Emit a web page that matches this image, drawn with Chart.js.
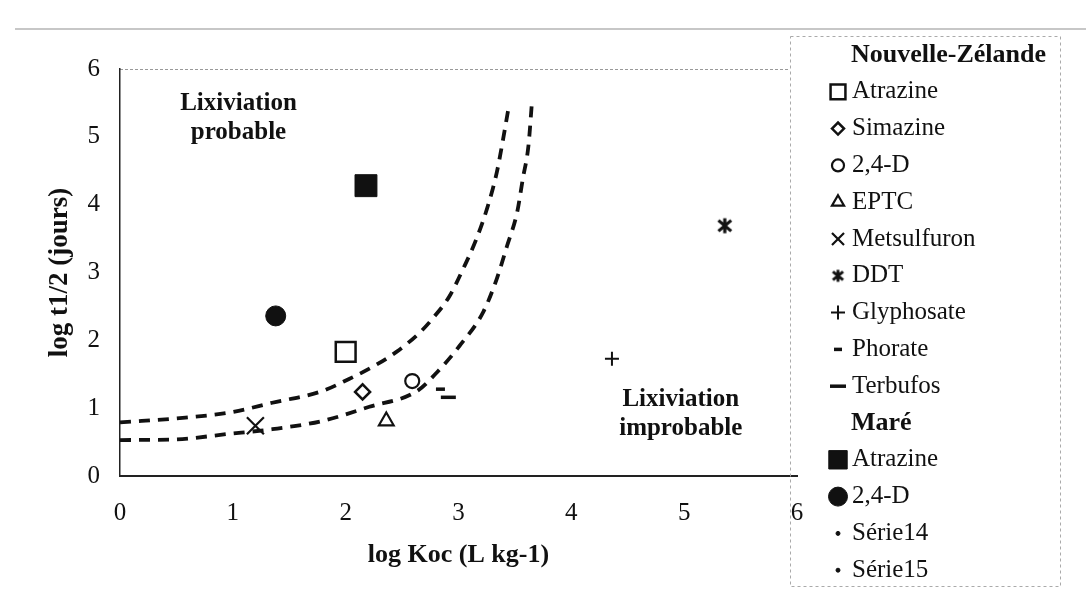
<!DOCTYPE html>
<html>
<head>
<meta charset="utf-8">
<script src="https://cdn.jsdelivr.net/npm/chart.js@4.4.0/dist/chart.umd.min.js"></script>
<style>
  html, body { margin: 0; padding: 0; background: #fff; }
  #wrap { width: 1086px; height: 600px; }
</style>
</head>
<body>
<div id="wrap"><canvas id="chart" width="1086" height="600"></canvas></div>
<script>
// Nouvelle-Zélande pesticides : log Koc / log t1/2
const nzNames = ['Atrazine', 'Simazine', '2,4-D', 'EPTC', 'Metsulfuron', 'DDT', 'Glyphosate', 'Phorate', 'Terbufos'];
const nzKoc = [2.0, 2.15, 2.59, 2.36, 1.20, 5.36, 4.36, 2.84, 2.91];
const nzT12 = [1.83, 1.24, 1.40, 0.81, 0.74, 3.69, 1.73, 1.28, 1.16];

// Maré
const mareNames = ['Atrazine', '2,4-D'];
const mareKoc = [2.18, 1.38];
const mareT12 = [4.28, 2.36];

// the two dashed limit curves (Série14 upper, Série15 lower)
const s14Koc = [0.0, 0.58, 0.99, 1.35, 1.79, 2.03, 2.24, 2.45, 2.66, 2.77, 2.92, 3.04, 3.16, 3.26, 3.34, 3.40, 3.45];
const s14T12 = [0.79, 0.86, 0.94, 1.08, 1.25, 1.43, 1.61, 1.83, 2.12, 2.32, 2.65, 3.05, 3.50, 3.98, 4.48, 5.01, 5.49];
const s15Koc = [0.0, 0.49, 0.96, 1.35, 1.79, 2.21, 2.63, 2.81, 3.01, 3.22, 3.34, 3.43, 3.52, 3.57, 3.62, 3.65];
const s15T12 = [0.53, 0.54, 0.62, 0.69, 0.81, 1.02, 1.25, 1.53, 1.92, 2.42, 2.91, 3.39, 3.89, 4.38, 4.87, 5.49];

const xTicks = [0, 1, 2, 3, 4, 5, 6];
const yTicks = [0, 1, 2, 3, 4, 5, 6];

const INK = '#111';
const SERIF = '"Liberation Serif", "Times New Roman", serif';

// Excel-like star marker: an X with a vertical bar through it
function starMarker(size, lw) {
  const c = document.createElement('canvas');
  c.width = size; c.height = size;
  const g = c.getContext('2d');
  const m = lw / 2 + 1, h = size / 2;
  g.strokeStyle = INK;
  g.lineWidth = lw;
  g.beginPath();
  g.moveTo(m, m + 1); g.lineTo(size - m, size - m - 1);
  g.moveTo(size - m, m + 1); g.lineTo(m, size - m - 1);
  g.moveTo(h, m - 1); g.lineTo(h, size - m + 1);
  g.stroke();
  return c;
}
const starBig = starMarker(18, 3.2);
const starSmall = starMarker(15, 2.8);

// marker looks (plot radius r, legend radius lr)
const nzStyles = [
  { pointStyle: 'rect', r: 14, lr: 10.5, w: 2.5, filled: false },
  { pointStyle: 'rectRot', r: 7.5, lr: 6, w: 2.5, filled: false },
  { pointStyle: 'circle', r: 7, lr: 6, w: 2.2, filled: false },
  { pointStyle: 'triangle', r: 8.5, lr: 7, w: 2.2, filled: false },
  { pointStyle: 'crossRot', r: 12, lr: 8.5, w: 2.2, filled: false },
  { pointStyle: starBig, legendImg: starSmall, r: 9, lr: 7, w: 3, filled: false },
  { pointStyle: 'cross', r: 7, lr: 7, w: 2, filled: false },
  { pointStyle: 'line', r: 4.5, lr: 4, w: 3.5, filled: false },
  { pointStyle: 'line', r: 7.5, lr: 8, w: 3.5, filled: false }
];
const mareStyles = [
  { pointStyle: 'rect', r: 15.5, lr: 13, w: 1, filled: true },
  { pointStyle: 'circle', r: 10, lr: 9.5, w: 1, filled: true }
];
const dotStyle = { pointStyle: 'circle', r: 2, lr: 2, w: 1, filled: true };

function pts(xs, ys) {
  return xs.map((x, i) => ({ x: x, y: ys[i] }));
}

function markerSet(label, x, y, st) {
  return {
    label: label,
    data: [{ x: x, y: y }],
    showLine: false,
    pointStyle: st.pointStyle,
    pointRadius: st.r,
    pointBorderWidth: st.w,
    borderColor: INK,
    backgroundColor: st.filled ? INK : 'rgba(0,0,0,0)'
  };
}

const datasets = [];
nzNames.forEach((n, i) => datasets.push(markerSet(n, nzKoc[i], nzT12[i], nzStyles[i])));
mareNames.forEach((n, i) => datasets.push(markerSet(n, mareKoc[i], mareT12[i], mareStyles[i])));
[['Série14', s14Koc, s14T12], ['Série15', s15Koc, s15T12]].forEach(s => {
  datasets.push({
    label: s[0],
    data: pts(s[1], s[2]),
    showLine: true,
    pointRadius: 0,
    borderColor: INK,
    borderWidth: 3.8,
    borderDash: [11, 8],
    cubicInterpolationMode: 'monotone',
    fill: false
  });
});

// text in the plot, anchored in data units
const notes = [
  { lines: ['Lixiviation', 'probable'], x: 1.05, y: 5.27 },
  { lines: ['Lixiviation', 'improbable'], x: 4.97, y: 0.91 }
];

// legend rows
const legendRows = [{ header: 'Nouvelle-Zélande' }];
nzNames.forEach((n, i) => legendRows.push({ label: n, st: nzStyles[i] }));
legendRows.push({ header: 'Maré' });
mareNames.forEach((n, i) => legendRows.push({ label: n, st: mareStyles[i] }));
legendRows.push({ label: 'Série14', st: dotStyle });
legendRows.push({ label: 'Série15', st: dotStyle });

const decorPlugin = {
  id: 'decor',
  beforeDraw(chart) {
    const ctx = chart.ctx, a = chart.chartArea;
    ctx.save();
    // outer frame (top edge) and plot-area top border
    ctx.strokeStyle = '#b5b5b5';
    ctx.lineWidth = 1.5;
    ctx.beginPath(); ctx.moveTo(15, 29); ctx.lineTo(1086, 29); ctx.stroke();
    ctx.strokeStyle = '#999';
    ctx.lineWidth = 1;
    ctx.setLineDash([3, 2]);
    ctx.beginPath(); ctx.moveTo(a.left, a.top + 0.5); ctx.lineTo(a.right - 8, a.top + 0.5); ctx.stroke();
    ctx.restore();
  },
  afterDraw(chart) {
    const ctx = chart.ctx;
    const xs = chart.scales.x, ys = chart.scales.y;
    ctx.save();
    ctx.fillStyle = INK;
    ctx.textAlign = 'center';
    ctx.textBaseline = 'middle';
    ctx.font = 'bold 25px ' + SERIF;
    notes.forEach(n => {
      const cx = xs.getPixelForValue(n.x), cy = ys.getPixelForValue(n.y);
      n.lines.forEach((t, k) => ctx.fillText(t, cx, cy + (k - (n.lines.length - 1) / 2) * 29));
    });

    // legend box
    ctx.strokeStyle = '#aaa';
    ctx.lineWidth = 1;
    ctx.setLineDash([3, 3]);
    ctx.strokeRect(790.5, 36.5, 270, 550);
    ctx.setLineDash([]);

    ctx.textAlign = 'left';
    let y = 55;
    legendRows.forEach(row => {
      if (row.header) {
        ctx.font = 'bold 26px ' + SERIF;
        ctx.fillStyle = INK;
        ctx.fillText(row.header, 851, y);
      } else {
        const st = row.st;
        ctx.strokeStyle = INK;
        ctx.fillStyle = st.filled ? INK : 'rgba(0,0,0,0)';
        ctx.lineWidth = st.w;
        const ps = st.legendImg || st.pointStyle;
        Chart.helpers.drawPoint(ctx, { pointStyle: ps, radius: st.lr, rotation: 0, borderWidth: st.w }, 838, y);
        ctx.fillStyle = INK;
        ctx.font = '25px ' + SERIF;
        ctx.fillText(row.label, 852, y);
      }
      y += 36.8;
    });
    ctx.restore();
  }
};

new Chart(document.getElementById('chart'), {
  type: 'scatter',
  data: { datasets: datasets },
  options: {
    responsive: false,
    animation: false,
    devicePixelRatio: 1,
    events: [],
    layout: { padding: { left: 40, right: 289, top: 69, bottom: 25 } },
    plugins: { legend: { display: false }, tooltip: { enabled: false } },
    scales: {
      x: {
        type: 'linear',
        min: 0, max: 6,
        afterFit: s => { s.height = 99; },
        afterBuildTicks: s => { s.ticks = xTicks.map(v => ({ value: v })); },
        grid: { display: false, drawTicks: false },
        border: { display: true, color: '#222', width: 2 },
        ticks: { color: INK, padding: 22, font: { family: SERIF, size: 25 } },
        title: { display: true, text: 'log Koc (L kg-1)', color: INK, font: { family: SERIF, size: 26, weight: 'bold' } }
      },
      y: {
        type: 'linear',
        min: 0, max: 6,
        afterFit: s => { s.width = 80; },
        afterBuildTicks: s => { s.ticks = yTicks.map(v => ({ value: v })); },
        grid: { display: false, drawTicks: false },
        border: { display: true, color: '#222', width: 1.5 },
        ticks: { color: INK, padding: 20, font: { family: SERIF, size: 25 } },
        title: { display: true, text: 'log t1/2 (jours)', color: INK, font: { family: SERIF, size: 27, weight: 'bold' } }
      }
    }
  },
  plugins: [decorPlugin]
});
</script>
</body>
</html>
